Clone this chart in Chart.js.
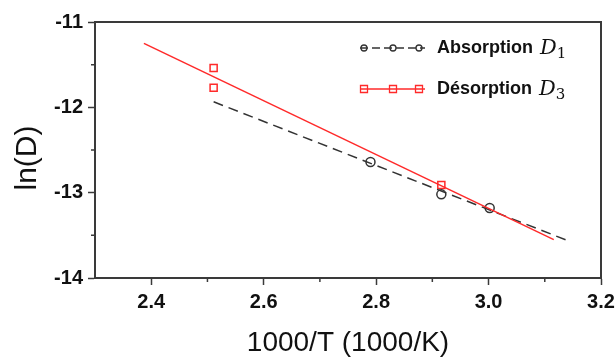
<!DOCTYPE html>
<html>
<head>
<meta charset="utf-8">
<script src="https://cdn.jsdelivr.net/npm/chart.js@4.4.1/dist/chart.umd.min.js"></script>
<style>
  html, body { margin: 0; padding: 0; background: #fff; }
  #wrap { width: 616px; height: 361px; position: relative; }
</style>
</head>
<body>
<div id="wrap"><canvas id="chart"></canvas></div>
<script>
// Data
const absX = [2.790, 2.916, 3.002];
const absY = [-12.64, -13.02, -13.18];
const desX = [2.511, 2.511, 2.916];
const desY = [-11.54, -11.77, -12.91];

// Linear fits (end points)
const absFitX = [2.511, 3.144];
const absFitY = [-11.935, -13.57];
const desFitX = [2.387, 3.116];
const desFitY = [-11.25, -13.55];

const xTicks = [2.4, 2.6, 2.8, 3.0, 3.2];
const yTicks = [-14, -13, -12, -11];
const xMinor = [2.5, 2.7, 2.9, 3.1];
const yMinor = [-13.5, -12.5, -11.5];

const AXIS = '#3a3a3a';
const RED = '#ff2a2a';
const DARK = '#333333';
const SANS = '"Liberation Sans", Arial, sans-serif';

const pts = (xs, ys) => xs.map((x, i) => ({ x, y: ys[i] }));

// Frame, minor ticks, y title and the legend
const decorPlugin = {
  id: 'decor',
  afterDraw(chart) {
    const { ctx, chartArea: a, scales: { x, y } } = chart;
    ctx.save();
    ctx.strokeStyle = AXIS;
    ctx.lineWidth = 2;
    ctx.beginPath();
    ctx.moveTo(a.left, a.top);
    ctx.lineTo(a.right, a.top);
    ctx.lineTo(a.right, a.bottom);
    ctx.stroke();

    ctx.lineWidth = 1.5;
    ctx.beginPath();
    xMinor.forEach(v => {
      const px = x.getPixelForValue(v);
      ctx.moveTo(px, a.bottom);
      ctx.lineTo(px, a.bottom + 4);
    });
    yMinor.forEach(v => {
      const py = y.getPixelForValue(v);
      ctx.moveTo(a.left, py);
      ctx.lineTo(a.left - 4, py);
    });
    ctx.stroke();

    // y axis title
    ctx.save();
    ctx.translate(28, 158);
    ctx.rotate(-Math.PI / 2);
    ctx.fillStyle = '#111';
    ctx.font = '30px ' + SANS;
    ctx.textAlign = 'center';
    ctx.textBaseline = 'middle';
    ctx.fillText('ln(D)', 0, 0);
    ctx.restore();

    // legend
    const rows = [
      { y: 48, color: DARK, dash: [8, 4], marker: 'circle', text: 'Absorption ', sub: '1' },
      { y: 89, color: RED, dash: [], marker: 'square', text: 'Désorption ', sub: '3' },
    ];
    rows.forEach(r => {
      ctx.strokeStyle = r.color;
      ctx.lineWidth = 1.3;
      ctx.setLineDash(r.dash);
      ctx.beginPath();
      ctx.moveTo(360, r.y);
      ctx.lineTo(425, r.y);
      ctx.stroke();
      ctx.setLineDash([]);
      [364, 393, 419].forEach(mx => {
        ctx.beginPath();
        if (r.marker === 'circle') ctx.arc(mx, r.y, 3, 0, Math.PI * 2);
        else ctx.rect(mx - 3.5, r.y - 3.5, 7, 7);
        ctx.stroke();
      });
      ctx.fillStyle = '#111';
      ctx.textBaseline = 'middle';
      ctx.font = 'bold 18px ' + SANS;
      ctx.fillText(r.text, 437, r.y);
      const w = ctx.measureText(r.text).width;
      ctx.font = 'italic 21px "DejaVu Serif", serif';
      ctx.fillText('D', 437 + w + 2, r.y + 1);
      const wd = ctx.measureText('D').width;
      ctx.font = '15px "DejaVu Serif", serif';
      ctx.fillText(r.sub, 437 + w + 2 + wd, r.y + 6);
    });
    ctx.restore();
  }
};

new Chart(document.getElementById('chart'), {
  type: 'scatter',
  data: {
    datasets: [
      {
        label: 'Désorption fit',
        data: pts(desFitX, desFitY),
        showLine: true,
        borderColor: RED,
        borderWidth: 1.5,
        pointRadius: 0,
      },
      {
        label: 'Absorption fit',
        data: pts(absFitX, absFitY),
        showLine: true,
        borderColor: DARK,
        borderWidth: 1.5,
        borderDash: [10, 6],
        pointRadius: 0,
      },
      {
        label: 'Absorption D1',
        data: pts(absX, absY),
        pointStyle: 'circle',
        pointRadius: 4.5,
        borderColor: DARK,
        borderWidth: 1.5,
        backgroundColor: 'rgba(0,0,0,0)',
      },
      {
        label: 'Désorption D3',
        data: pts(desX, desY),
        pointStyle: 'rect',
        pointRadius: 5,
        borderColor: RED,
        borderWidth: 1.5,
        backgroundColor: 'rgba(0,0,0,0)',
      },
    ],
  },
  options: {
    responsive: true,
    maintainAspectRatio: false,
    animation: false,
    layout: { padding: { top: 22, right: 15, left: 0, bottom: 0 } },
    plugins: { legend: { display: false }, tooltip: { enabled: false } },
    scales: {
      x: {
        type: 'linear',
        min: 2.3,
        max: 3.2,
        afterBuildTicks: s => { s.ticks = xTicks.map(v => ({ value: v })); },
        afterFit: s => { s.height = 83; s.paddingLeft = 0; s.paddingRight = 0; },
        border: { color: AXIS, width: 2 },
        grid: { drawOnChartArea: false, tickLength: 7, tickColor: AXIS, tickWidth: 1.5 },
        ticks: {
          color: '#111',
          padding: 5,
          font: { family: SANS, size: 20, weight: 'bold' },
          callback: v => v.toFixed(1),
        },
        title: {
          display: true,
          text: '1000/T (1000/K)',
          color: '#111',
          font: { family: SANS, size: 28 },
          padding: { top: 0, bottom: 1 },
        },
      },
      y: {
        type: 'linear',
        min: -14,
        max: -11,
        afterBuildTicks: s => { s.ticks = yTicks.map(v => ({ value: v })); },
        afterFit: s => { s.width = 95; s.paddingTop = 0; s.paddingBottom = 0; },
        border: { color: AXIS, width: 2 },
        grid: { drawOnChartArea: false, tickLength: 7, tickColor: AXIS, tickWidth: 1.5 },
        ticks: {
          color: '#111',
          padding: 5,
          font: { family: SANS, size: 20, weight: 'bold' },
          callback: v => String(v),
        },
      },
    },
  },
  plugins: [decorPlugin],
});
</script>
</body>
</html>
